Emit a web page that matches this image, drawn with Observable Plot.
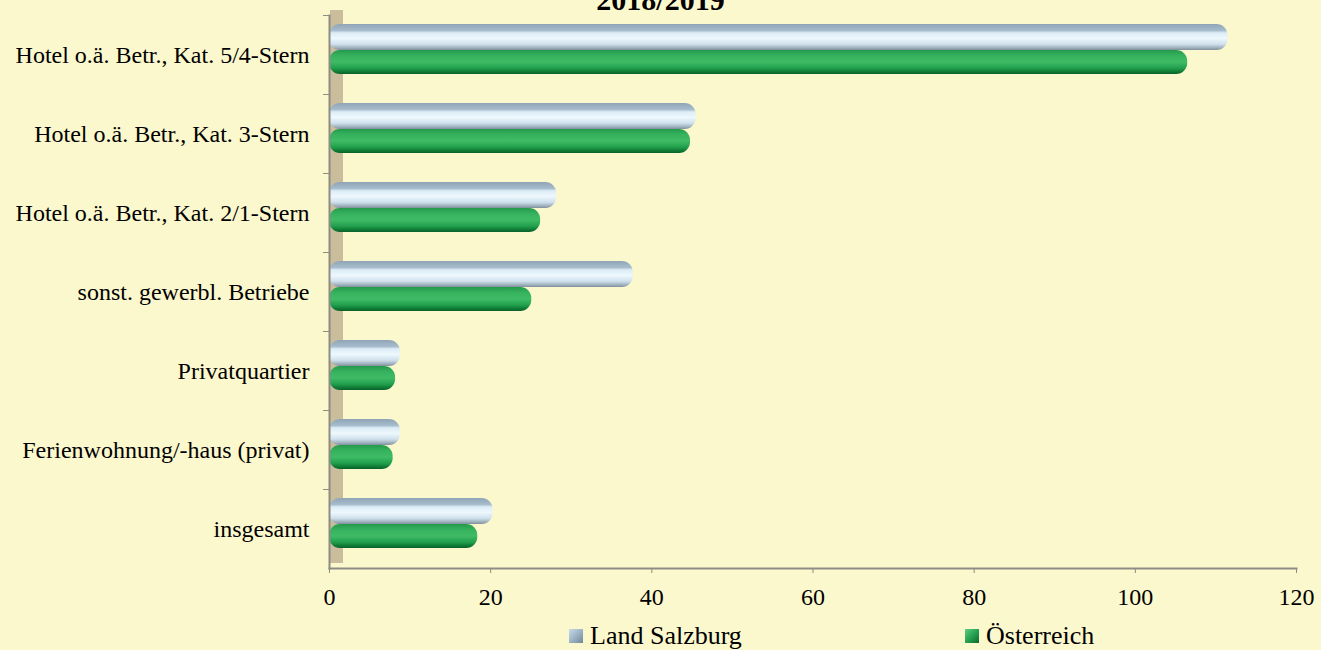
<!DOCTYPE html>
<html><head><meta charset="utf-8">
<script src="https://cdn.jsdelivr.net/npm/d3@7"></script>
<script src="https://cdn.jsdelivr.net/npm/@observablehq/plot@0.6"></script>
<style>
html,body{margin:0;padding:0;background:#fcf8cd;width:1321px;height:650px;overflow:hidden;position:relative;font-family:"Liberation Serif","Times New Roman",serif;color:#000;}
#title{position:absolute;left:0;width:1321px;top:-15px;text-align:center;font-size:30px;line-height:30px;font-weight:bold;}
#chart{position:absolute;left:0;top:0;}
#legend{position:absolute;top:621px;left:569px;display:flex;font-size:26px;line-height:30px;}
.item{display:flex;align-items:center;width:396px;white-space:nowrap;}
.sw{width:14px;height:14px;margin-right:7px;}
</style></head><body>
<div id="title"></div><div id="chart"></div><div id="legend"></div>
<script>
const title = "2018/2019";
const categories = [
  "Hotel o.ä. Betr., Kat. 5/4-Stern",
  "Hotel o.ä. Betr., Kat. 3-Stern",
  "Hotel o.ä. Betr., Kat. 2/1-Stern",
  "sonst. gewerbl. Betriebe",
  "Privatquartier",
  "Ferienwohnung/-haus (privat)",
  "insgesamt"
];
const series = ["Land Salzburg", "Österreich"];
const salzburg = [111.5, 45.5, 28.2, 37.7, 8.8, 8.8, 20.3];
const oesterreich = [106.5, 44.8, 26.2, 25.1, 8.2, 7.9, 18.4];
const xTicks = [0, 20, 40, 60, 80, 100, 120];

const rows = categories.map((c, i) => ({category: c, salzburg: salzburg[i], oesterreich: oesterreich[i]}));

document.getElementById("title").textContent = title;

const axisColor = "#8c8b84";
const plot = Plot.plot({
  width: 1321, height: 615,
  marginTop: 15, marginBottom: 47, marginLeft: 329, marginRight: 25,
  style: {background: "transparent", fontFamily: "'Liberation Serif', serif", fontSize: "23px", color: "#000", overflow: "visible"},
  x: {domain: [0, 120], ticks: xTicks},
  y: {domain: categories, padding: 0},
  marks: [
    Plot.ruleX([0], {stroke: "#c9bd9b", strokeWidth: 13, dx: 7, dy: -5}),
    Plot.barX(rows, {y: "category", x: "salzburg", fill: "url(#gS)", insetTop: 9, insetBottom: 44, rx: 11}),
    Plot.barX(rows, {y: "category", x: "oesterreich", fill: "url(#gO)", insetTop: 35, insetBottom: 20, rx: 11}),
    Plot.frame({anchor: "left", stroke: axisColor, strokeWidth: 2}),
    Plot.frame({anchor: "bottom", stroke: axisColor, strokeWidth: 2}),
    Plot.axisX({ticks: xTicks, tickSize: 5, tickPadding: 14, stroke: axisColor, fill: "#000", fontSize: 24, label: null}),
    Plot.axisY({tickSize: 0, tickPadding: 20, fill: "#000", fontSize: 24, label: null}),
    Plot.axisY({tickSize: 6, text: null, dy: -39.5, stroke: axisColor, label: null})
  ]
});

const svg = d3.select(plot);
const defs = svg.insert("defs", ":first-child");
function grad(id, stops) {
  const g = defs.append("linearGradient").attr("id", id)
    .attr("x1", 0).attr("y1", 0).attr("x2", 0).attr("y2", 1);
  stops.forEach(([o, c]) => g.append("stop").attr("offset", o).attr("stop-color", c));
}
grad("gS", [[0, "#8fa5b7"], [0.25, "#a7bdcd"], [0.34, "#dcecf6"], [0.55, "#eef8fd"], [0.78, "#cfe0ec"], [0.92, "#9eb0bd"], [1, "#7f8f9b"]]);
grad("gO", [[0, "#249a4c"], [0.25, "#37b35f"], [0.5, "#3fbb66"], [0.75, "#22a04d"], [0.9, "#0f7c36"], [1, "#0a5f29"]]);

document.getElementById("chart").appendChild(plot);

const swatchBg = [
  "linear-gradient(135deg, #c9dbe7 0%, #9db4c6 50%, #6f8799 100%)",
  "linear-gradient(135deg, #5fcf83 0%, #27a152 50%, #0c6a2e 100%)"
];
const legend = document.getElementById("legend");
series.forEach((s, i) => {
  const it = document.createElement("div");
  it.className = "item";
  const sw = document.createElement("div");
  sw.className = "sw";
  sw.style.background = swatchBg[i];
  const t = document.createElement("span");
  t.textContent = s;
  it.appendChild(sw); it.appendChild(t);
  legend.appendChild(it);
});
</script>
</body></html>
